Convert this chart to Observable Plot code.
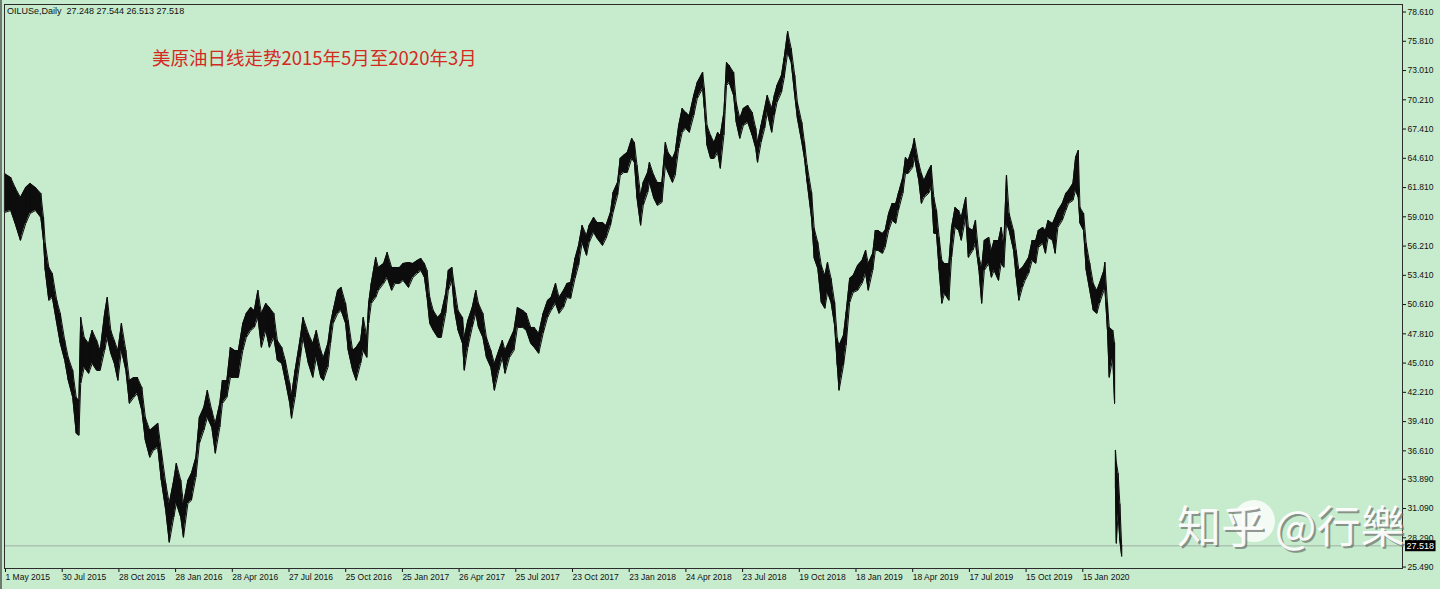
<!DOCTYPE html>
<html>
<head>
<meta charset="utf-8">
<script src="https://cdn.jsdelivr.net/npm/d3@7"></script>
<script src="https://cdn.jsdelivr.net/npm/@observablehq/plot@0.6"></script>
<style>
  html, body { margin: 0; padding: 0; background: #c7ebcd; }
  #wrap { position: relative; width: 1440px; height: 589px; overflow: hidden; background: #c7ebcd; box-shadow: inset 2px 0 0 #6f7a71; }
  #wrap svg { display: block; }
</style>
</head>
<body>
<div id="wrap"></div>
<script>
// ---- Chart data ----
const symbol = "OILUSe";
const period = "Daily";
const lastOHLC = [27.248, 27.544, 26.513, 27.518];
const titleText = "美原油日线走势2015年5月至2020年3月";
const watermarkText = "知乎 @行樂";

// bar number (daily bars from 1 May 2015)
const barIndex = [
  0,7,12,18,24,29,35,41,44,46,
  50,54,59,63,68,72,77,81,84,86,
  90,95,99,104,108,113,116,120,124,128,
  132,137,141,146,150,155,159,164,168,173,
  177,182,186,191,194,199,202,207,211,216,
  220,225,229,234,238,243,246,251,255,260,
  264,269,273,278,282,286,290,295,299,304,
  308,313,317,322,324,328,334,337,343,348,
  352,357,360,365,368,371,376,380,385,388,
  393,397,402,405,409,411,414,419,422,428,
  432,437,441,446,450,456,461,466,470,474,
  477,480,484,489,493,498,501,505,508,512,
  517,519,523,528,532,535,540,544,549,553,
  558,562,565,570,575,579,585,589,594,598,
  603,608,613,617,622,626,631,635,639,644,
  648,652,657,660,665,669,675,679,684,687,
  692,695,699,703,708,711,714,718,721,726,
  728,733,737,742,746,749,754,757,761,765,
  769,773,778,782,788,790,793,797,801,805,
  808,812,815,818,823,826,830,834,839,844,
  848,850,854,858,861,866,869,872,877,880,
  884,888,892,895,900,903,906,911,914,918,
  922,926,929,933,937,940,942,947,950,954,
  958,963,968,972,975,980,983,986,991,994,
  998,1002,1006,1009,1014,1017,1020,1025,1027,1032,
  1035,1038,1043,1046,1049,1052,1055,1058,1061,1066,
  1069,1073,1077,1080,1085,1088,1093,1096,1100,1103,
  1106,1111,1114,1117,1122,1125,1128,1131,1134,1139,
  1142,1145,1149,1152,1156,1160,1164,1167,1172,1175,
  1178,1183,1186,1189,1194,1198,1201,1206,1209,1212,
  1214,1218,1221,1225,1229,1233,1236,1241,1242,1245,
  1247,1251,1253,1254,1255,1257,1259,1261
];
const highs = [
  63.15,62.77,61.81,60.86,61.81,62.20,61.81,61.24,58.94,56.45,
  54.16,53.58,51.00,49.75,47.17,45.54,44.30,41.72,41.43,49.37,
  47.46,46.88,48.13,47.17,46.21,49.75,51.29,48.13,47.17,46.21,
  48.80,46.21,43.34,43.63,43.63,42.67,39.80,38.56,38.85,39.23,
  36.65,33.49,31.57,33.77,35.40,33.77,31.57,33.77,34.44,35.98,
  39.80,40.76,42.39,40.47,39.23,41.14,43.34,43.34,46.50,46.21,
  46.21,48.80,49.75,50.33,50.04,51.96,49.75,50.71,50.33,49.75,
  47.17,46.50,45.26,43.05,41.91,44.30,47.46,49.37,47.84,46.88,
  48.13,46.21,45.54,46.88,48.80,50.04,51.96,52.24,50.71,49.09,
  46.21,46.50,47.17,49.37,47.46,50.71,52.63,55.11,54.16,54.54,
  55.59,54.16,54.16,54.16,54.54,54.64,54.54,54.83,55.02,54.54,
  53.87,51.29,50.04,49.37,49.75,51.67,53.87,54.16,52.24,50.04,
  49.37,47.46,49.09,50.33,51.96,50.71,49.75,47.46,46.21,44.97,
  46.21,47.17,46.21,47.17,48.13,50.33,50.04,49.75,48.42,48.42,
  47.84,49.75,51.00,51.29,52.63,51.29,51.96,52.63,52.72,55.02,
  56.26,58.18,57.22,58.18,58.94,58.46,58.46,58.18,59.42,61.33,
  62.29,64.59,64.89,65.16,66.50,66.12,63.92,61.05,62.29,63.25,
  64.21,62.96,62.29,62.29,66.12,65.16,64.59,65.16,67.75,69.37,
  68.99,68.70,70.62,71.86,72.82,71.29,67.75,66.79,66.12,67.08,
  66.79,68.99,73.77,73.49,72.82,69.95,68.42,69.37,69.66,68.99,
  67.46,66.12,67.75,69.37,70.62,69.37,70.62,71.58,72.53,74.16,
  76.74,75.12,72.53,69.95,68.03,66.12,63.92,61.33,57.89,56.55,
  54.35,53.39,54.64,53.11,50.81,47.36,46.69,47.65,49.85,53.11,
  53.39,54.35,54.83,55.79,54.54,55.50,57.70,57.70,57.41,57.70,
  59.33,60.28,60.28,61.24,62.77,64.69,64.40,65.64,66.50,64.11,
  63.15,62.48,63.44,63.92,60.86,59.61,57.03,54.83,54.54,54.54,
  57.99,59.90,59.61,58.94,60.86,57.99,57.70,58.66,55.11,54.16,
  56.74,57.03,55.79,56.74,56.74,57.99,56.45,62.96,59.33,57.70,
  55.79,53.87,54.16,54.54,55.11,56.74,56.74,57.70,57.99,57.70,
  58.66,58.37,58.94,59.61,60.28,61.24,61.53,62.20,64.69,65.36,
  59.90,59.33,56.45,54.54,52.63,51.96,52.63,53.87,54.64,50.71,
  48.42,48.13,46.88,36.65,35.50,34.44,31.50,27.544
];
const lows = [
  59.42,59.61,58.37,56.74,58.37,59.33,59.61,58.94,56.74,53.87,
  51.00,51.29,48.80,46.89,45.26,43.34,41.72,38.27,38.08,43.05,
  44.59,44.01,44.97,44.30,44.30,46.21,47.46,45.93,44.97,43.34,
  46.21,44.30,41.14,41.72,42.10,40.47,37.60,35.98,36.65,36.93,
  33.77,30.90,27.84,30.23,31.57,30.23,28.32,31.57,31.86,34.06,
  37.31,38.56,39.80,38.85,36.36,38.85,41.14,41.72,43.63,43.63,
  43.63,46.21,47.46,48.13,48.42,49.37,46.50,48.13,46.50,47.46,
  45.26,44.97,43.34,41.14,39.71,41.72,45.54,47.46,44.97,43.63,
  45.54,43.63,43.34,44.59,46.88,48.80,49.75,50.04,48.80,46.21,
  44.30,43.34,44.97,46.21,45.54,48.80,50.71,51.29,51.96,52.63,
  53.20,51.96,52.63,52.63,52.91,52.24,53.20,53.58,53.87,53.20,
  51.29,48.80,48.13,47.46,47.46,49.75,51.96,52.91,50.04,48.13,
  46.88,44.30,46.50,48.42,49.75,48.42,47.46,45.54,44.59,42.39,
  44.30,45.54,44.01,45.54,46.21,48.42,48.42,48.13,46.88,46.50,
  45.93,47.84,49.37,50.04,50.71,49.75,50.33,51.29,51.19,53.11,
  54.35,56.55,55.31,56.55,57.51,56.93,56.26,56.93,58.18,59.42,
  61.05,62.96,63.25,63.25,64.59,64.21,60.76,58.18,60.09,61.33,
  62.29,60.76,60.09,60.38,63.92,63.25,62.29,62.96,65.55,67.08,
  67.46,67.08,68.70,70.33,71.29,69.37,65.83,64.59,64.59,65.16,
  63.63,66.79,71.58,71.86,70.62,68.03,66.50,67.75,68.03,66.79,
  65.55,64.21,66.12,67.46,68.99,67.08,68.70,69.95,70.91,72.25,
  74.73,73.77,70.62,68.42,66.12,64.59,62.29,58.85,55.02,54.06,
  50.81,50.23,51.77,50.81,48.61,44.78,42.39,44.78,46.69,50.81,
  51.77,51.96,52.63,53.58,51.96,53.87,55.79,55.79,55.50,56.07,
  57.70,58.66,58.37,59.61,61.24,63.15,63.15,63.73,64.69,62.48,
  60.28,60.86,61.24,61.81,57.41,57.41,53.87,50.71,51.67,51.00,
  55.11,57.99,57.70,56.74,58.94,55.11,55.79,56.45,53.87,50.71,
  53.87,54.54,53.20,53.87,52.91,54.54,54.16,58.37,57.70,55.79,
  53.20,51.00,52.24,52.91,53.58,54.83,54.54,56.07,56.45,55.50,
  57.03,56.74,55.50,57.99,58.66,59.61,60.28,60.57,61.53,60.86,
  58.37,57.70,53.87,51.96,50.04,49.75,50.71,51.96,52.24,48.13,
  43.63,45.54,41.14,33.00,27.74,30.62,28.00,26.513
];

// axis ticks (MT4 time scale: one label every 64 bars)
const xTickIdx = [0,64,128,192,256,320,384,448,512,576,640,704,768,832,896,960,1024,1088,1152,1216];
const xTickLabels = ["1 May 2015","30 Jul 2015","28 Oct 2015","28 Jan 2016","28 Apr 2016","27 Jul 2016","25 Oct 2016","25 Jan 2017","26 Apr 2017","25 Jul 2017","23 Oct 2017","23 Jan 2018","24 Apr 2018","23 Jul 2018","19 Oct 2018","18 Jan 2019","18 Apr 2019","17 Jul 2019","15 Oct 2019","15 Jan 2020"];
const yTickValues = [78.61,75.81,73.01,70.21,67.41,64.61,61.81,59.01,56.21,53.41,50.61,47.81,45.01,42.21,39.41,36.61,33.89,31.09,28.29,25.49];

// ---- build table (split the series at large price gaps) ----
let segNo = 0;
const bars = barIndex.map((b, k) => {
  if (k > 0 && (lows[k - 1] - highs[k] > 3 || lows[k] - highs[k - 1] > 3)) segNo++;
  return { i: b, high: highs[k], low: lows[k], seg: segNo };
});

const ink = "#0d0d0d";
const chart = Plot.plot({
  width: 1440,
  height: 589,
  marginLeft: 4,
  marginRight: 38,
  marginTop: 4,
  marginBottom: 21,
  style: { background: "transparent", fontFamily: "'Liberation Sans', Arial, sans-serif", fontSize: "8.5px", color: "#111" },
  x: { type: "linear", domain: [0, 1578] },
  y: { type: "linear", domain: [25.35, 79.33] },
  marks: [
    Plot.ruleY([lastOHLC[3]], { stroke: "#9fb0a3", strokeWidth: 1 }),
    Plot.areaY(bars, { x: "i", y1: "low", y2: "high", z: "seg", fill: ink }),
    Plot.lineY(bars, { x: "i", y: "high", z: "seg", stroke: ink, strokeWidth: 1 }),
    Plot.lineY(bars, { x: "i", y: "low", z: "seg", stroke: ink, strokeWidth: 1 }),
    Plot.ruleX(bars, { x: "i", y1: "low", y2: "high", stroke: ink, strokeWidth: 1.2 }),
    Plot.axisX({ ticks: xTickIdx, tickFormat: d => xTickLabels[xTickIdx.indexOf(d)], tickSize: 4, tickPadding: 1, textAnchor: "start", dx: 1, label: null }),
    Plot.axisY({ anchor: "right", ticks: yTickValues, tickFormat: d => d.toFixed(3), tickSize: 3, tickPadding: 2, label: null }),
    Plot.text([lastOHLC[3]], { y: d => d, text: d => d.toFixed(3), frameAnchor: "right", dx: 4, textAnchor: "start", fill: "white", fontSize: 9 }),
    Plot.frame({ stroke: "#2c2c2c" })
  ]
});
document.getElementById("wrap").appendChild(chart);

// ---- overlays ----
const svg = d3.select(chart);
// black box behind the current price label
const priceStr = lastOHLC[3].toFixed(3);
svg.selectAll("text").filter(function () { return this.textContent === priceStr; })
  .each(function () {
    const bb = this.getBBox();
    d3.select(this.parentNode).insert("rect", () => this)
      .attr("x", bb.x - 1.5).attr("y", bb.y - 0.5)
      .attr("width", bb.width + 3).attr("height", bb.height + 1)
      .attr("fill", "#000").attr("stroke", "none")
      .attr("transform", this.getAttribute("transform"));
  });

// info line top-left
svg.append("text")
  .attr("x", 7).attr("y", 13.5)
  .attr("text-anchor", "start")
  .attr("font-size", 9).attr("fill", "#111")
  .style("white-space", "pre")
  .text(`${symbol},${period}  ${lastOHLC.map(v => v.toFixed(3)).join(" ")}`);

// red title
svg.append("text")
  .attr("x", 152).attr("y", 64.5)
  .attr("text-anchor", "start")
  .attr("font-family", "'Noto Sans CJK SC', sans-serif")
  .attr("font-size", 18.5).attr("fill", "#d42a1f")
  .text(titleText);

// watermark
const wm = svg.append("g").attr("text-anchor", "start").attr("font-family", "'Noto Sans CJK SC', sans-serif").attr("font-size", 44);
wm.append("circle").attr("cx", 1254).attr("cy", 521).attr("r", 21).attr("fill", "white").attr("opacity", 0.8);
wm.append("text").attr("x", 1179).attr("y", 545).attr("fill", "#6f7770").attr("opacity", 0.75).style("white-space", "pre").text(watermarkText);
wm.append("text").attr("x", 1177).attr("y", 543).attr("fill", "#ffffff").attr("opacity", 0.92).style("white-space", "pre").text(watermarkText);
</script>
</body>
</html>
